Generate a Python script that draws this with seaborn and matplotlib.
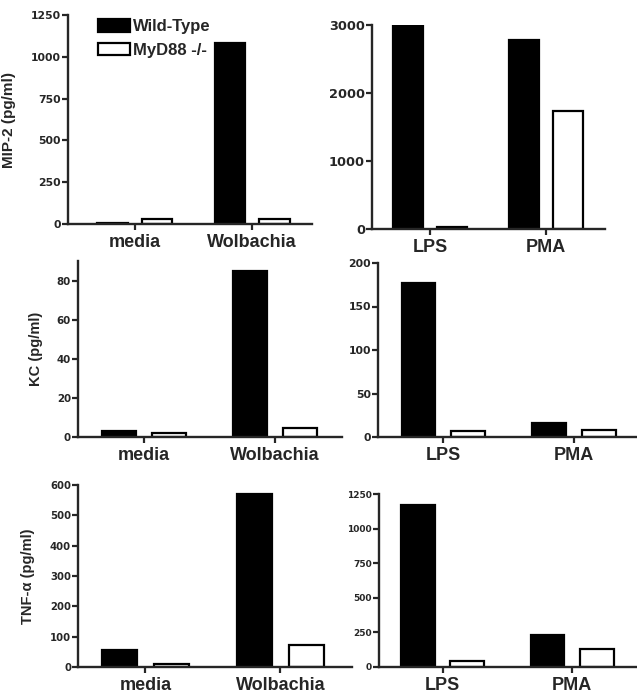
import pandas as pd
import seaborn as sns
import matplotlib
matplotlib.use('Agg')
import matplotlib.pyplot as plt
from matplotlib.patches import Patch

# ---- data ----
genotypes = ['Wild-Type', 'MyD88 -/-']
bacteria = ['media', 'Wolbachia']
stimuli = ['LPS', 'PMA']

mip2_wt = [8, 1084]
mip2_ko = [30, 30]
mip2_stim_wt = [3000, 2780]
mip2_stim_ko = [25, 1735]

kc_wt = [3, 85]
kc_ko = [2, 4.5]
kc_stim_wt = [176.5, 16.5]
kc_stim_ko = [6.5, 8]

tnf_wt = [56, 570]
tnf_ko = [10, 71]
tnf_stim_wt = [1168, 231]
tnf_stim_ko = [42, 128]

sns.set_style('ticks')
plt.rcParams['font.family'] = ['Liberation Sans', 'DejaVu Sans']
plt.rcParams['font.weight'] = 'bold'

W, H = 637, 693
fig = plt.figure(figsize=(W / 100, H / 100), dpi=100)


def make_ax(left, right, top, bottom):
    # pixel box -> figure fraction
    return fig.add_axes([left / W, 1 - bottom / H, (right - left) / W, (bottom - top) / H])


def frame(cats, wt, ko):
    return pd.DataFrame({
        'cond': cats * 2,
        'geno': [genotypes[0]] * len(cats) + [genotypes[1]] * len(cats),
        'val': list(wt) + list(ko),
    })


panels = [
    # (pixel box, cats, wt, ko, ymax, yticks, xlim, ylabel, label x, ytick size)
    ((68, 312, 15, 224), bacteria, mip2_wt, mip2_ko, 1250, range(0, 1251, 250), (-0.57, 1.51), 'MIP-2 (pg/ml)', -0.215, 7.8),
    ((372, 605, 25, 229), stimuli, mip2_stim_wt, mip2_stim_ko, 3000, range(0, 3001, 1000), (-0.5, 1.51), None, 0, 9.3),
    ((78, 342, 261, 437), bacteria, kc_wt, kc_ko, 90, range(0, 81, 20), (-0.5, 1.51), 'KC (pg/ml)', -0.133, 7.4),
    ((378, 637, 263, 437), stimuli, kc_stim_wt, kc_stim_ko, 200, range(0, 201, 50), (-0.5, 1.48), None, 0, 7.8),
    ((78, 352, 485, 667), bacteria, tnf_wt, tnf_ko, 600, range(0, 601, 100), (-0.5, 1.53), 'TNF-\u03b1 (pg/ml)', -0.157, 7.3),
    ((379, 637, 494, 667), stimuli, tnf_stim_wt, tnf_stim_ko, 1250, range(0, 1251, 250), (-0.49, 1.5), None, 0, 6.5),
]

pal = {genotypes[0]: 'black', genotypes[1]: 'white'}

for i, (box, cats, wt, ko, ymax, yt, xl, ylab, lx, ysize) in enumerate(panels):
    ax = make_ax(*box)
    sns.barplot(data=frame(cats, wt, ko), x='cond', y='val', hue='geno',
                palette=pal, saturation=1, edgecolor='black', linewidth=1.6,
                width=0.76, gap=0.32, ax=ax, legend=False)
    ax.set_ylim(0, ymax)
    ax.set_xlim(*xl)
    ax.set_yticks(list(yt))
    ax.set_xlabel('')
    sns.despine(ax=ax)
    for s in ('left', 'bottom'):
        ax.spines[s].set_linewidth(1.7)
    ax.tick_params(axis='y', direction='out', length=4, width=1.6, pad=1)
    ax.tick_params(axis='x', direction='out', length=4, width=1.6, pad=3)
    for t in ax.get_yticklabels():
        t.set_fontfamily('DejaVu Sans')
        t.set_fontweight('bold')
        t.set_fontsize(ysize)
    for t in ax.get_xticklabels():
        t.set_fontweight('bold')
        t.set_fontsize(13)
    if ylab:
        ax.set_ylabel(ylab, fontsize=11 if i == 0 else 10.5, fontweight='bold')
        ax.yaxis.set_label_coords(lx, 0.5)
    else:
        ax.set_ylabel('')
    if i == 0:
        handles = [Patch(facecolor=pal[g], edgecolor='black', linewidth=1.6, label=g) for g in genotypes]
        ax.legend(handles=handles, loc='upper left', bbox_to_anchor=(0.09, 1.02),
                  frameon=False, handlelength=1.9, handleheight=0.8,
                  handletextpad=0.2, labelspacing=0.5, borderpad=0,
                  prop={'weight': 'bold', 'size': 12})

fig.savefig('out.png', dpi=100)
